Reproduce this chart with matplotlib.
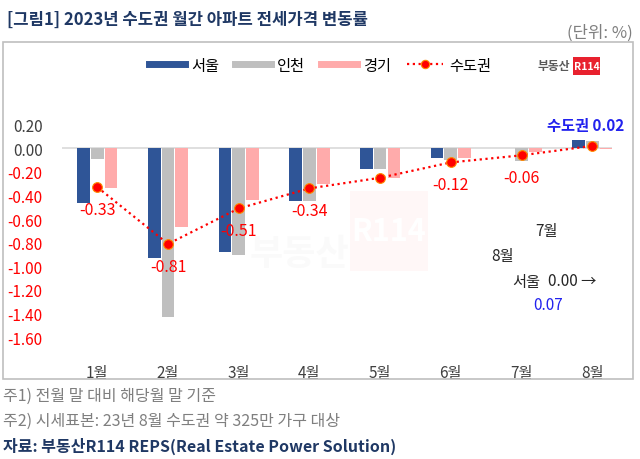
"""2023년 수도권 월간 아파트 전세가격 변동률 — grouped bars + dotted line."""
import matplotlib
matplotlib.use("Agg")
import matplotlib.pyplot as plt
import numpy as np
from matplotlib.lines import Line2D
from matplotlib.patches import Rectangle

plt.rcParams["font.family"] = ["Noto Sans CJK KR", "DejaVu Sans"]

months = ["1월", "2월", "3월", "4월", "5월", "6월", "7월", "8월"]
seoul = [-0.46, -0.93, -0.88, -0.45, -0.18, -0.08, 0.00, 0.07]
incheon = [-0.09, -1.43, -0.90, -0.45, -0.18, -0.10, -0.11, 0.06]
gyeonggi = [-0.34, -0.67, -0.44, -0.30, -0.25, -0.08, -0.03, -0.01]
capital = [-0.33, -0.81, -0.51, -0.34, -0.25, -0.12, -0.06, 0.02]
yticks = [0.20, 0.00, -0.20, -0.40, -0.60, -0.80, -1.00, -1.20, -1.40, -1.60]

COLORS = {
    "seoul": "#2F5597",
    "incheon": "#BFBFBF",
    "gyeonggi": "#FFABAB",
    "line": "#FF0000",
    "navy": "#1F3864",
    "muted": "#7F7F7F",
    "blue": "#2222EE",
}
W, H = 640, 460


def px(x, y):
    return x / W, 1 - y / H


fig = plt.figure(figsize=(6.4, 4.6), dpi=100)
fig.patch.set_facecolor("white")

# chart frame
fig.patches.append(Rectangle(px(3, 380), 630 / W, 337 / H, transform=fig.transFigure,
                             fill=False, edgecolor="#BFBFBF", linewidth=1.2))

# very faint watermark behind the plot
fig.text(*px(250, 255), "부동산", fontsize=26, fontweight="bold", color="#FAFAFA",
         ha="left", va="center", zorder=0)
fig.patches.append(Rectangle(px(350, 272), 78 / W, 80 / H, transform=fig.transFigure,
                             facecolor="#FFF7F7", edgecolor="none", zorder=0))
fig.text(*px(389, 232), "R114", fontsize=22, fontweight="bold", color="white",
         ha="center", va="center", zorder=0.5)

ax = fig.add_axes([px(62, 0)[0], px(0, 350)[1], 550 / W, 248 / H])
ax.set_facecolor("none")
x = np.arange(len(months))
bw = 0.18
ax.bar(x - 0.195, seoul, bw, color=COLORS["seoul"], zorder=2)
ax.bar(x, incheon, bw, color=COLORS["incheon"], zorder=2)
ax.bar(x + 0.195, gyeonggi, bw, color=COLORS["gyeonggi"], zorder=2)
ax.axhline(0, color="#D9D9D9", linewidth=1.2, zorder=1)
ax.plot(x, capital, linestyle=(0, (1, 1.6)), color=COLORS["line"], linewidth=1.6,
        marker="o", markersize=7, markerfacecolor=COLORS["line"],
        markeredgecolor="#FF8C00", markeredgewidth=0.8, zorder=3)

for i, v in enumerate(capital[:-1]):
    ax.annotate(f"{v:.2f}", (x[i], v), xytext=(0, -16), textcoords="offset points",
                ha="center", va="center", fontsize=11.5, color=COLORS["line"])
ax.text(x[-1] - 0.1, 0.2, f"수도권 {capital[-1]:.2f}", ha="center", va="center",
        fontsize=11, fontweight="bold", color=COLORS["blue"])

ax.set_xlim(-0.5, 7.28)
ax.set_ylim(-1.7, 0.4)
ax.set_yticks(yticks)
ax.set_yticklabels([f"{t:.2f}" for t in yticks], fontsize=11)
for lbl, t in zip(ax.get_yticklabels(), yticks):
    lbl.set_color(COLORS["line"] if t < 0 else "#404040")
ax.set_xticks(x)
ax.set_xticklabels(months, fontsize=11, color="#404040")
ax.tick_params(length=0, axis="x", pad=11)
ax.tick_params(length=0, axis="y", pad=14)
for s in ax.spines.values():
    s.set_visible(False)

# legend
handles = [
    Line2D([], [], color=COLORS["seoul"], linewidth=5),
    Line2D([], [], color=COLORS["incheon"], linewidth=5),
    Line2D([], [], color=COLORS["gyeonggi"], linewidth=5),
    Line2D([], [], color=COLORS["line"], linestyle=(0, (1, 1.6)), linewidth=1.6,
           marker="o", markersize=6, markeredgecolor="#FF8C00", markeredgewidth=0.8),
]
fig.legend(handles, ["서울", "인천", "경기", "수도권"], loc="center",
           bbox_to_anchor=px(320, 66), ncol=4, frameon=False, fontsize=11,
           handlelength=2.4, columnspacing=1.0, handletextpad=0.4)

# logo
fig.text(*px(570, 67), "부동산", fontsize=8.5, fontweight="bold", color="#595959",
         ha="right", va="center")
fig.patches.append(Rectangle(px(573, 76), 27 / W, 18 / H, transform=fig.transFigure,
                             facecolor="#E8212E", edgecolor="none"))
fig.text(*px(586.5, 67), "R114", fontsize=7.5, fontweight="bold", color="white",
         ha="center", va="center")

# stray annotation texts
fig.text(*px(547, 232), "7월", fontsize=11, color="#262626", ha="center", va="center")
fig.text(*px(503, 256), "8월", fontsize=11, color="#262626", ha="center", va="center")
fig.text(*px(526, 282), "서울", fontsize=11, color="#262626", ha="center", va="center")
fig.text(*px(572, 282), "0.00 →", fontsize=11, color="#262626", ha="center", va="center")
fig.text(*px(548, 306), "0.07", fontsize=11, color=COLORS["blue"], ha="center", va="center")

# titles and notes
fig.text(*px(7, 20), "[그림1] 2023년 수도권 월간 아파트 전세가격 변동률", fontsize=12,
         fontweight="bold", color=COLORS["navy"], ha="left", va="center")
fig.text(*px(633, 33), "(단위: %)", fontsize=12, color=COLORS["muted"], ha="right", va="center")
fig.text(*px(3, 396), "주1) 전월 말 대비 해당월 말 기준", fontsize=11.5,
         color=COLORS["muted"], ha="left", va="center")
fig.text(*px(3, 421), "주2) 시세표본: 23년 8월 수도권 약 325만 가구 대상", fontsize=11.5,
         color=COLORS["muted"], ha="left", va="center")
fig.text(*px(3, 446), "자료: 부동산R114 REPS(Real Estate Power Solution)", fontsize=11.5,
         fontweight="bold", color=COLORS["navy"], ha="left", va="center")

fig.savefig("out.png", dpi=100, facecolor="white")
